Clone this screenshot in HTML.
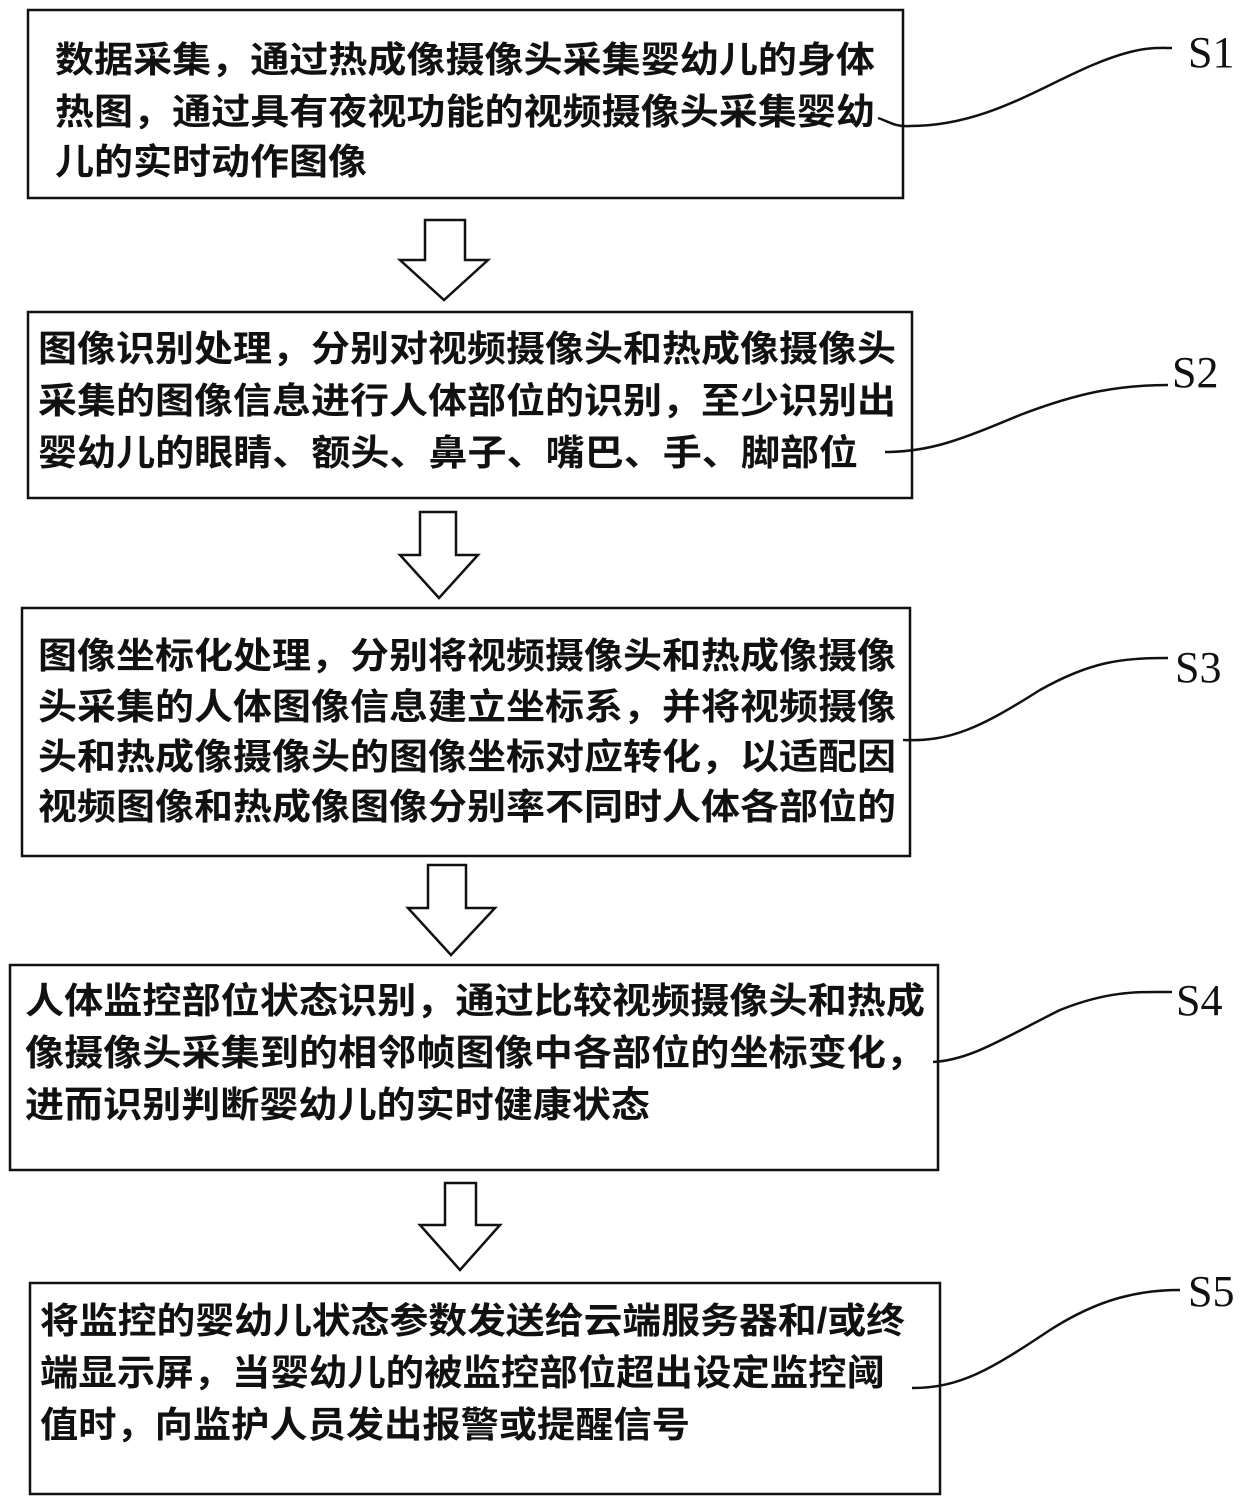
<!DOCTYPE html>
<html><head><meta charset="utf-8"><style>
html,body{margin:0;padding:0;background:#fff;}
svg{display:block;}
.t{font-family:"Liberation Sans","Noto Sans CJK SC",sans-serif;font-size:36px;font-weight:bold;fill:#111;}
.s{font-family:"Liberation Serif",serif;font-size:44px;fill:#111;}
</style></head><body>
<svg width="1240" height="1504" viewBox="0 0 1240 1504" xmlns="http://www.w3.org/2000/svg">
<g fill="none" stroke="#111" stroke-width="2.5">
<rect x="28" y="10" width="875" height="188"/>
<rect x="28" y="312" width="884" height="186"/>
<rect x="22" y="608" width="888" height="248"/>
<rect x="10" y="965" width="928" height="205"/>
<rect x="30" y="1283" width="910" height="211"/>
<!-- arrows -->
<path d="M425 220 H465 V260 H488 L444 300 L400 260 H425 Z"/>
<path d="M420 512 H456 V555 H478 L439 598 L400 555 H420 Z"/>
<path d="M428 865 H466 V908 H495 L451 955 L408 908 H428 Z"/>
<path d="M445 1183 H476 V1225 H500 L460 1270 L420 1225 H445 Z"/>
<!-- leaders -->
<path d="M878 118 C890 122 895 127 910 126 C1000 126 1060 70 1130 52 C1150 47 1160 48 1172 48"/>
<path d="M885 452 C930 452 960 440 1020 415 C1080 392 1120 385 1168 385"/>
<path d="M903 740 C950 742 980 728 1040 690 C1090 662 1120 658 1168 658"/>
<path d="M933 1062 C970 1060 1000 1040 1060 1010 C1110 990 1140 992 1172 992"/>
<path d="M912 1388 C960 1388 990 1370 1050 1330 C1100 1298 1140 1290 1180 1290"/>
</g>
<text class="s" x="1188" y="67">S1</text>
<text class="s" x="1172" y="387">S2</text>
<text class="s" x="1175" y="682">S3</text>
<text class="s" x="1176" y="1015">S4</text>
<text class="s" x="1188" y="1306">S5</text>
<g class="t">
<text x="55" y="72" textLength="820" lengthAdjust="spacingAndGlyphs">数据采集，通过热成像摄像头采集婴幼儿的身体</text>
<text x="55" y="124" textLength="820" lengthAdjust="spacingAndGlyphs">热图，通过具有夜视功能的视频摄像头采集婴幼</text>
<text x="55" y="174" textLength="312" lengthAdjust="spacingAndGlyphs">儿的实时动作图像</text>

<text x="38" y="361" textLength="858" lengthAdjust="spacingAndGlyphs">图像识别处理，分别对视频摄像头和热成像摄像头</text>
<text x="38" y="413" textLength="858" lengthAdjust="spacingAndGlyphs">采集的图像信息进行人体部位的识别，至少识别出</text>
<text x="38" y="465" textLength="820" lengthAdjust="spacingAndGlyphs">婴幼儿的眼睛、额头、鼻子、嘴巴、手、脚部位</text>

<text x="38" y="668" textLength="858" lengthAdjust="spacingAndGlyphs">图像坐标化处理，分别将视频摄像头和热成像摄像</text>
<text x="38" y="719" textLength="858" lengthAdjust="spacingAndGlyphs">头采集的人体图像信息建立坐标系，并将视频摄像</text>
<text x="38" y="769" textLength="858" lengthAdjust="spacingAndGlyphs">头和热成像摄像头的图像坐标对应转化，以适配因</text>
<text x="38" y="819" textLength="858" lengthAdjust="spacingAndGlyphs">视频图像和热成像图像分别率不同时人体各部位的</text>

<text x="25" y="1013" textLength="900" lengthAdjust="spacingAndGlyphs">人体监控部位状态识别，通过比较视频摄像头和热成</text>
<text x="25" y="1065" textLength="900" lengthAdjust="spacingAndGlyphs">像摄像头采集到的相邻帧图像中各部位的坐标变化，</text>
<text x="25" y="1117" textLength="625" lengthAdjust="spacingAndGlyphs">进而识别判断婴幼儿的实时健康状态</text>

<text x="40" y="1333" textLength="865" lengthAdjust="spacingAndGlyphs">将监控的婴幼儿状态参数发送给云端服务器和/或终</text>
<text x="40" y="1385" textLength="845" lengthAdjust="spacingAndGlyphs">端显示屏，当婴幼儿的被监控部位超出设定监控阈</text>
<text x="40" y="1437" textLength="650" lengthAdjust="spacingAndGlyphs">值时，向监护人员发出报警或提醒信号</text>
</g>
</svg>
</body></html>
